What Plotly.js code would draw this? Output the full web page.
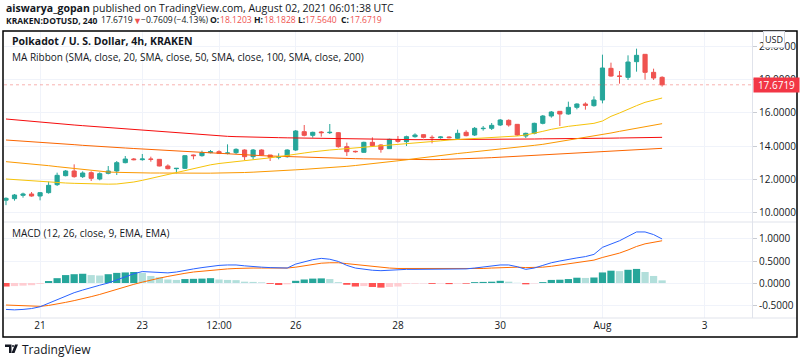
<!DOCTYPE html>
<html>
<head>
<meta charset="utf-8">
<script src="https://cdn.plot.ly/plotly-3.0.1.min.js"></script>
<style>
html,body{margin:0;padding:0;background:#ffffff;}
#chart{width:800px;height:362px;}
</style>
</head>
<body>
<div id="chart"></div>
<script>
// ---------------- DATA ----------------
const startTime = '2021-07-20T08:00:00Z';   // first 4h bar
const barHours = 4;

const openP = [10.75,10.84,11.04,11.12,11.0,11.2,11.68,12.22,12.5,12.16,12.4,12.02,12.36,12.5,13.0,13.22,13.18,13.22,13.2,12.8,
  12.64,12.66,13.46,13.42,13.6,13.66,13.56,13.6,13.76,13.36,13.76,13.46,13.32,13.36,13.76,14.86,14.64,14.84,14.8,14.8,
  13.96,13.68,13.62,14.22,14.06,13.84,14.36,14.26,14.56,14.68,14.52,14.5,14.54,14.46,14.82,14.66,15.04,15.06,15.26,15.54,
  15.3,14.6,14.76,15.36,15.8,16.08,15.92,16.32,16.52,16.42,16.76,18.66,18.2,18.12,19.06,19.5,18.42,18.1203];
const highP = [10.92,11.12,11.2,11.24,11.24,11.86,12.4,12.56,12.9,12.48,12.48,12.42,12.8,13.1,13.4,13.28,13.52,13.36,13.22,12.9,
  12.68,13.44,13.48,13.72,13.76,13.74,14.1,13.86,13.8,13.82,13.8,13.46,13.56,13.8,14.96,15.26,14.86,14.9,15.32,14.84,
  14.2,13.72,14.26,14.52,14.1,14.44,14.6,14.62,14.76,14.7,14.64,14.58,14.58,14.98,14.94,15.14,15.2,15.38,15.62,15.6,
  15.32,14.8,15.4,15.86,16.1,16.1,16.66,16.56,16.62,16.98,19.48,19.0,18.5,19.44,19.84,19.5,18.64,18.1828];
const lowP = [10.45,10.72,10.9,10.96,10.74,11.14,11.6,12.18,12.1,12.08,11.9,11.94,12.3,12.26,12.96,13.14,13.12,13.06,12.78,12.6,
  12.36,12.62,13.2,13.36,13.56,13.52,13.5,13.52,13.16,13.2,13.4,13.1,13.2,13.3,13.7,14.58,14.5,14.56,14.72,13.9,
  13.4,13.6,13.6,13.94,13.6,13.82,14.2,14.0,14.5,14.46,14.16,14.44,14.46,14.42,14.58,14.6,14.92,14.96,15.2,15.16,
  14.6,14.48,14.7,15.3,15.7,15.2,15.88,16.2,16.18,16.36,16.56,18.16,17.74,17.96,18.46,17.98,17.96,17.564];
const closeP = [10.86,11.06,11.12,11.0,11.2,11.64,12.24,12.5,12.16,12.38,12.06,12.34,12.5,13.0,13.22,13.18,13.22,13.2,12.8,12.64,
  12.66,13.42,13.42,13.6,13.66,13.56,13.58,13.8,13.36,13.76,13.46,13.32,13.36,13.76,14.9,14.64,14.82,14.8,14.82,13.96,
  13.66,13.66,14.22,14.02,13.8,14.4,14.28,14.56,14.66,14.52,14.5,14.54,14.5,14.76,14.62,15.06,15.06,15.24,15.56,15.26,
  14.66,14.76,15.36,15.8,16.04,15.92,16.32,16.52,16.44,16.76,18.68,18.2,18.18,19.04,19.44,18.42,18.08,17.6719];

const sma20 = [12.02,11.98,11.94,11.9,11.88,11.84,11.8,11.78,11.76,11.74,11.72,11.71,11.71,11.72,11.76,11.84,11.94,12.06,12.18,12.31,
  12.43,12.55,12.66,12.77,12.87,12.95,13.0,13.05,13.11,13.16,13.22,13.29,13.36,13.42,13.5,13.58,13.65,13.72,13.76,13.8,
  13.84,13.87,13.91,13.95,13.99,14.03,14.08,14.12,14.17,14.21,14.26,14.31,14.36,14.39,14.42,14.44,14.46,14.48,14.5,14.53,
  14.6,14.66,14.75,14.88,15.0,15.1,15.18,15.24,15.3,15.36,15.5,15.78,15.98,16.22,16.42,16.62,16.76,16.88];
const sma50 = [13.06,13.02,12.98,12.92,12.87,12.82,12.76,12.7,12.64,12.58,12.52,12.47,12.44,12.42,12.4,12.39,12.38,12.38,12.38,12.37,
  12.37,12.37,12.37,12.37,12.37,12.37,12.38,12.39,12.41,12.43,12.45,12.48,12.51,12.54,12.57,12.6,12.63,12.66,12.7,12.74,
  12.78,12.83,12.88,12.93,12.98,13.04,13.1,13.17,13.24,13.31,13.38,13.44,13.5,13.55,13.6,13.65,13.7,13.75,13.8,13.86,
  13.92,13.98,14.04,14.1,14.18,14.26,14.34,14.42,14.5,14.58,14.68,14.78,14.88,14.98,15.08,15.18,15.27,15.34];
const sma100 = [14.36,14.33,14.3,14.27,14.24,14.2,14.16,14.12,14.08,14.04,14.0,13.97,13.94,13.91,13.88,13.85,13.82,13.79,13.76,13.72,
  13.68,13.65,13.62,13.59,13.56,13.53,13.5,13.48,13.46,13.44,13.42,13.4,13.38,13.36,13.34,13.32,13.3,13.28,13.27,13.26,
  13.25,13.24,13.23,13.22,13.21,13.2,13.19,13.19,13.18,13.18,13.18,13.19,13.2,13.22,13.24,13.26,13.28,13.3,13.33,13.36,
  13.39,13.42,13.45,13.48,13.51,13.54,13.57,13.6,13.63,13.66,13.69,13.72,13.75,13.78,13.8,13.82,13.84,13.86];
const sma200 = [15.62,15.57,15.53,15.49,15.44,15.4,15.35,15.3,15.26,15.22,15.18,15.14,15.1,15.06,15.03,15.0,14.96,14.92,14.88,14.84,
  14.8,14.76,14.72,14.68,14.64,14.61,14.58,14.56,14.54,14.53,14.52,14.51,14.5,14.49,14.48,14.47,14.46,14.45,14.44,14.43,
  14.42,14.42,14.41,14.41,14.4,14.4,14.39,14.39,14.38,14.38,14.38,14.38,14.38,14.38,14.39,14.39,14.4,14.4,14.4,14.41,
  14.41,14.42,14.42,14.43,14.43,14.44,14.44,14.45,14.45,14.46,14.46,14.47,14.48,14.49,14.5,14.5,14.51,14.52];

const macdLine = [-0.6,-0.61,-0.6,-0.58,-0.54,-0.46,-0.37,-0.29,-0.22,-0.16,-0.1,-0.05,0.0,0.07,0.14,0.21,0.26,0.25,0.24,0.23,
  0.25,0.29,0.32,0.35,0.38,0.4,0.41,0.41,0.39,0.37,0.36,0.35,0.34,0.34,0.43,0.48,0.53,0.56,0.54,0.49,
  0.4,0.34,0.31,0.29,0.28,0.29,0.31,0.31,0.31,0.31,0.31,0.31,0.31,0.31,0.32,0.34,0.36,0.38,0.41,0.41,
  0.37,0.31,0.34,0.4,0.46,0.5,0.54,0.57,0.6,0.65,0.81,0.89,0.96,1.06,1.16,1.16,1.1,1.0];
const signalLine = [-0.5,-0.51,-0.52,-0.53,-0.53,-0.51,-0.48,-0.44,-0.4,-0.36,-0.31,-0.26,-0.2,-0.14,-0.08,-0.03,0.02,0.07,0.11,0.15,
  0.19,0.22,0.25,0.27,0.29,0.31,0.32,0.33,0.34,0.34,0.34,0.34,0.34,0.34,0.36,0.39,0.42,0.45,0.46,0.46,
  0.44,0.42,0.39,0.37,0.35,0.34,0.33,0.33,0.32,0.32,0.32,0.32,0.32,0.32,0.32,0.32,0.33,0.34,0.35,0.36,
  0.36,0.35,0.35,0.36,0.38,0.41,0.44,0.47,0.49,0.52,0.58,0.63,0.68,0.75,0.83,0.89,0.93,0.96];
const histVals = [-0.08,-0.07,-0.06,-0.05,-0.02,0.045,0.11,0.18,0.2,0.21,0.18,0.17,0.2,0.23,0.24,0.25,0.23,0.16,0.13,0.08,
  0.07,0.09,0.095,0.1,0.11,0.08,0.07,0.065,0.03,0.025,0.015,-0.02,-0.045,-0.03,0.05,0.08,0.1,0.105,0.09,0.02,
  -0.04,-0.08,-0.07,-0.09,-0.105,-0.09,-0.08,-0.02,-0.015,-0.01,-0.02,-0.01,-0.025,-0.01,-0.015,0.02,0.025,0.03,0.05,0.03,
  0.005,-0.03,-0.01,0.02,0.07,0.075,0.09,0.12,0.115,0.125,0.24,0.28,0.27,0.3,0.32,0.25,0.16,0.06];

const priceTicks = [10,12,14,16,18,20];
const priceTickText = ['10.0000','12.0000','14.0000','16.0000','18.0000','20.0000'];
const macdTicks = [-0.5,0,0.5,1];
const macdTickText = ['-0.5000','0.0000','0.5000','1.0000'];
const timeTicks = ['2021-07-21','2021-07-23','2021-07-24 12:00','2021-07-26','2021-07-28','2021-07-30','2021-08-01','2021-08-03'];
const timeTickText = ['21','23','12:00','26','28','30','Aug','3'];
const lastPrice = 17.6719;
const quoteParts = ['17.6719','▼','−0.7609','(−4.13%)','O:','18.1203','H:','18.1828','L:','17.5640','C:','17.6719'];

// ---------------- BUILD ----------------
function pad(n){return (n<10?'0':'')+n;}
const t0 = new Date(startTime).getTime();
const times = openP.map((_,i)=>{
  const d = new Date(t0 + i*barHours*3600*1000);
  return d.getUTCFullYear()+'-'+pad(d.getUTCMonth()+1)+'-'+pad(d.getUTCDate())+' '+pad(d.getUTCHours())+':00';
});
const histColors = histVals.map((v,i)=>{
  const prev = i>0 ? histVals[i-1] : v;
  if (v >= 0) return prev < v ? '#26a69a' : '#b2dfdb';
  return prev < v ? '#ffcdd2' : '#ff5252';
});

const L=4, R=48, T=31, B=44, W=800, H=362;
const PW=W-L-R, PH=H-T-B;
const px = x => (x-L)/PW;
const py = y => (H-B-y)/PH;
const split = py(222);

const FONT = 'Open Sans, Noto Sans, sans-serif';
const TXT = '#131722';
const RED = '#ef5350';
const labelSize = 8.5;
const numSize = 8.6;

const traces = [
  {type:'scatter', mode:'lines', x:times, y:sma200, xaxis:'x', yaxis:'y', line:{color:'#f60c0c', width:1}, hoverinfo:'skip'},
  {type:'scatter', mode:'lines', x:times, y:sma100, xaxis:'x', yaxis:'y', line:{color:'#fb6500', width:1}, hoverinfo:'skip'},
  {type:'scatter', mode:'lines', x:times, y:sma50, xaxis:'x', yaxis:'y', line:{color:'#fb9800', width:1}, hoverinfo:'skip'},
  {type:'scatter', mode:'lines', x:times, y:sma20, xaxis:'x', yaxis:'y', line:{color:'#f6c309', width:1}, hoverinfo:'skip'},
  {type:'candlestick', x:times, open:openP, high:highP, low:lowP, close:closeP, xaxis:'x', yaxis:'y',
   increasing:{line:{color:'#26a69a', width:1}, fillcolor:'#26a69a'},
   decreasing:{line:{color:RED, width:1}, fillcolor:RED}, whiskerwidth:0},
  {type:'bar', x:times, y:histVals, xaxis:'x', yaxis:'y2', marker:{color:histColors, line:{width:0}}, hoverinfo:'skip'},
  {type:'scatter', mode:'lines', x:times, y:signalLine, xaxis:'x', yaxis:'y2', line:{color:'#ff6d00', width:1}, hoverinfo:'skip'},
  {type:'scatter', mode:'lines', x:times, y:macdLine, xaxis:'x', yaxis:'y2', line:{color:'#2962ff', width:1}, hoverinfo:'skip'}
];

// header quote line, pieces placed at their pixel positions
const quoteX = [99,131,139,172,208,218,252,262,296,303,339,348];
const quoteAnn = quoteParts.map((t,i)=>{
  const isLabel = /:$/.test(t);
  const isRed = (i===1) || (i>=5 && !isLabel);
  return {xref:'paper', yref:'paper', x:px(quoteX[i]), y:py(20), xanchor:'left', yanchor:'middle', showarrow:false,
    font:{size:i===1?9:numSize, color:isRed?RED:TXT, family:FONT}, text:isLabel?'<b>'+t+'</b>':t};
});

const gridC = '#f0f3fa';
const layout = {
  width:W, height:H,
  margin:{l:L, r:R, t:T, b:B, pad:0},
  paper_bgcolor:'#ffffff', plot_bgcolor:'#ffffff',
  showlegend:false, bargap:0.15,
  font:{family:FONT, color:TXT, size:10},
  xaxis:{type:'date', anchor:'y2', range:['2021-07-20 07:04','2021-08-03 22:12'],
    tickmode:'array', tickvals:timeTicks, ticktext:timeTickText,
    showgrid:true, gridcolor:gridC, gridwidth:1, zeroline:false, showline:false,
    ticks:'', tickfont:{size:10, color:TXT, family:FONT}, rangeslider:{visible:false}, fixedrange:true},
  yaxis:{domain:[split,1], side:'right', range:[9.44,20.9], tickmode:'array', tickvals:priceTicks, ticktext:priceTickText,
    showgrid:true, gridcolor:gridC, zeroline:false, showline:true, linecolor:'#e0e3eb', linewidth:1,
    ticks:'outside', ticklen:4, tickcolor:'#c9ccd3', tickfont:{size:10, color:TXT, family:FONT}, fixedrange:true},
  yaxis2:{domain:[0,split], side:'right', range:[-0.795,1.386], tickmode:'array', tickvals:macdTicks, ticktext:macdTickText,
    showgrid:true, gridcolor:gridC, zeroline:false, showline:true, linecolor:'#e0e3eb', linewidth:1,
    ticks:'outside', ticklen:4, tickcolor:'#c9ccd3', tickfont:{size:10, color:TXT, family:FONT}, fixedrange:true},
  shapes:[
    {type:'line', xref:'paper', yref:'y', x0:0, x1:1, y0:lastPrice, y1:lastPrice, line:{color:'rgba(239,83,80,0.45)', width:1, dash:'dot'}},
    {type:'line', xref:'paper', yref:'paper', x0:0, x1:px(797), y0:split, y1:split, line:{color:'#e0e3eb', width:1}},
    {type:'line', xref:'paper', yref:'paper', x0:0, x1:px(797), y0:0, y1:0, line:{color:'#e0e3eb', width:1}},
    {type:'rect', xref:'paper', yref:'paper', x0:px(3), x1:px(797), y0:py(337), y1:py(31), line:{color:'#000000', width:1.5}},
    {type:'path', xref:'paper', yref:'paper', fillcolor:TXT, line:{width:0},
     path:'M '+px(5)+','+py(344.5)+' L '+px(11.5)+','+py(344.5)+' L '+px(11.5)+','+py(353)+' L '+px(9)+','+py(353)+' L '+px(9)+','+py(347)+' L '+px(5)+','+py(347)+' Z'},
    {type:'circle', xref:'paper', yref:'paper', fillcolor:TXT, line:{width:0}, x0:px(12), x1:px(14), y0:py(347), y1:py(345)},
    {type:'path', xref:'paper', yref:'paper', fillcolor:TXT, line:{width:0},
     path:'M '+px(15)+','+py(344.5)+' L '+px(18)+','+py(344.5)+' L '+px(14.5)+','+py(353)+' L '+px(11.5)+','+py(353)+' Z'}
  ],
  annotations:[
    {xref:'paper', yref:'paper', x:px(4), y:py(8), xanchor:'left', yanchor:'middle', showarrow:false,
     font:{size:10.5, color:TXT, family:FONT},
     text:'<b>aiswarya_gopan</b> published on TradingView.com, August 02, 2021 06:01:38 UTC'},
    {xref:'paper', yref:'paper', x:px(4), y:py(20), xanchor:'left', yanchor:'middle', showarrow:false,
     font:{size:labelSize, color:TXT, family:FONT}, text:'<b>KRAKEN:DOTUSD, 240</b>'},
    ...quoteAnn,
    {xref:'paper', yref:'paper', x:px(10), y:py(41), xanchor:'left', yanchor:'middle', showarrow:false,
     font:{size:10.5, color:TXT, family:FONT}, text:'<b>Polkadot / U. S. Dollar, 4h, KRAKEN</b>'},
    {xref:'paper', yref:'paper', x:px(10), y:py(57), xanchor:'left', yanchor:'middle', showarrow:false,
     font:{size:10, color:TXT, family:FONT}, text:'MA Ribbon (SMA, close, 20, SMA, close, 50, SMA, close, 100, SMA, close, 200)'},
    {xref:'paper', yref:'paper', x:px(10), y:py(233), xanchor:'left', yanchor:'middle', showarrow:false,
     font:{size:10, color:TXT, family:FONT}, text:'MACD (12, 26, close, 9, EMA, EMA)'},
    {xref:'paper', yref:'y', x:px(752.5), y:lastPrice, xanchor:'left', yanchor:'middle', showarrow:false,
     bgcolor:'#f23645', width:43, height:12, borderpad:1, font:{size:10, color:'#ffffff', family:FONT}, text:'17.6719'},
    {xref:'paper', yref:'paper', x:px(774), y:py(39), xanchor:'center', yanchor:'middle', showarrow:false,
     bgcolor:'#ffffff', bordercolor:'#d1d4dc', borderwidth:1, borderpad:1, font:{size:9, color:TXT, family:FONT}, text:'USD'},
    {xref:'paper', yref:'paper', x:px(20), y:py(349), xanchor:'left', yanchor:'middle', showarrow:false,
     font:{size:12, color:TXT, family:FONT}, text:'TradingView'}
  ]
};

Plotly.newPlot('chart', traces, layout, {displayModeBar:false, staticPlot:true});
</script>
</body>
</html>
